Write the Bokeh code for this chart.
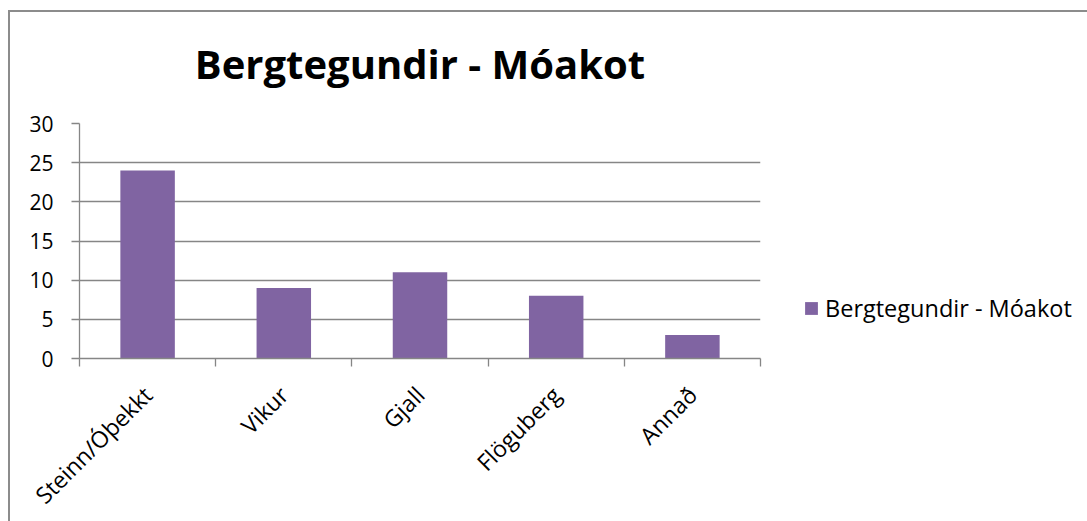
import math
from bokeh.plotting import figure
from bokeh.models import Range1d, FixedTicker, SingleIntervalTicker, Legend
from bokeh.embed import file_html
from bokeh.resources import INLINE

categories = ["Steinn/Óþekkt", "Vikur", "Gjall", "Flöguberg", "Annað"]
values = [24, 9, 11, 8, 3]
series_name = "Bergtegundir - Móakot"
y_ticks_interval = 5

FONT = "Open Sans"
GRAY = "#868686"
PURPLE = "#8064A2"
EDGE = "#8c8c8c"

xs = [i + 0.5 for i in range(len(categories))]

p = figure(frame_width=681, frame_height=235,
           min_border_left=71, min_border_right=318,
           min_border_top=123, min_border_bottom=155,
           x_range=Range1d(0, len(categories)), y_range=Range1d(0, 30),
           output_backend="svg", toolbar_location=None,
           title=series_name)
# chart-area edge (left and top) drawn behind the transparent canvas border
p.styles = {
    "margin-left": "8px",
    "background": (f"linear-gradient({EDGE},{EDGE}) 0px 10px / 100% 2px no-repeat, "
                   f"linear-gradient({EDGE},{EDGE}) 0px 10px / 2px 100% no-repeat"),
}
p.outline_line_color = None
p.background_fill_color = "white"
p.border_fill_alpha = 0

p.title.align = "center"
p.title.vertical_align = "top"
p.title.text_font = FONT
p.title.text_font_size = "40px"
p.title.text_font_style = "bold"
p.title.text_color = "black"
p.title.standoff = 62

r = p.vbar(x=xs, top=values, width=0.4, color=PURPLE, line_color=None)

# y axis
ya = p.yaxis[0]
ya.ticker = SingleIntervalTicker(interval=y_ticks_interval)
ya.axis_line_color = GRAY
ya.axis_line_width = 1.3
ya.major_tick_line_color = GRAY
ya.major_tick_line_width = 1.3
ya.major_tick_in = 0
ya.major_tick_out = 8
ya.minor_tick_line_color = None
ya.major_label_text_font = FONT
ya.major_label_text_font_size = "21px"
ya.major_label_text_color = "black"
ya.major_label_standoff = 18

# x axis
xa = p.xaxis[0]
xa.ticker = FixedTicker(ticks=xs, minor_ticks=list(range(len(categories) + 1)))
xa.major_label_overrides = {x: c for x, c in zip(xs, categories)}
xa.major_label_orientation = math.pi / 4
xa.axis_line_color = GRAY
xa.axis_line_width = 1.3
xa.major_tick_line_color = None
xa.major_tick_in = 0
xa.major_tick_out = 0
xa.minor_tick_line_color = GRAY
xa.minor_tick_line_width = 1.3
xa.minor_tick_in = 0
xa.minor_tick_out = 8
xa.major_label_text_font = FONT
xa.major_label_text_font_size = "23px"
xa.major_label_text_color = "black"
xa.major_label_standoff = 24

p.xgrid.visible = False
p.ygrid.ticker = SingleIntervalTicker(interval=y_ticks_interval)
p.ygrid.grid_line_color = GRAY
p.ygrid.grid_line_width = 1.3

legend = Legend(items=[(series_name, [r])], location=(43, 34),
                padding=0, margin=0, spacing=0,
                glyph_width=16, glyph_height=16, label_standoff=6,
                label_text_font=FONT, label_text_font_size="23.5px",
                label_text_color="black",
                border_line_color=None, background_fill_alpha=0)
p.add_layout(legend, "right")

open("out.html", "w").write(file_html(p, INLINE))
